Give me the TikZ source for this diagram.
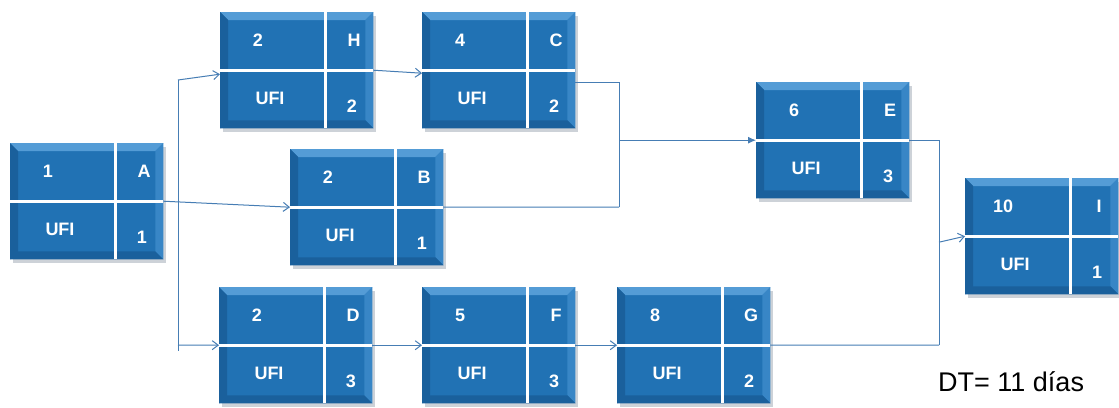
\documentclass[tikz,border=0pt]{standalone}
\usepackage{fontspec}
\setmainfont{Liberation Sans}
\usetikzlibrary{calc,arrows.meta}
\definecolor{boxblue}{RGB}{33,114,180}
\definecolor{bevlight}{RGB}{84,156,214}
\definecolor{bevmid}{RGB}{56,134,198}
\definecolor{bevdark}{RGB}{26,96,156}
\definecolor{linec}{RGB}{70,125,180}
\definecolor{shadowc}{RGB}{205,210,216}
\tikzset{
  actnode/.style={rectangle, minimum width=153pt, minimum height=116pt, inner sep=0pt, fill=boxblue},
  divider/.style={draw=white, line width=3pt},
  lbl/.style={text=white, font=\bfseries\fontsize{18}{18}\selectfont, inner sep=0pt},
  conn/.style={draw=linec, line width=1pt},
  openarr/.style={conn, -{Straight Barb[length=6pt,width=9pt]}},
  fillarr/.style={conn, -{Latex[length=8pt,width=7pt]}}
}
\newcommand\actbox[6]{%
  \fill[shadowc] (#2+3,#3+4) rectangle (#2+156,#3+120);
  \node[actnode, anchor=north west] (#1) at (#2,#3) {};
  \fill[bevlight] (#1.north west) -- (#1.north east) -- ($(#1.north east)+(-8,8)$) -- ($(#1.north west)+(8,8)$) -- cycle;
  \fill[bevdark] (#1.north west) -- ($(#1.north west)+(8,8)$) -- ($(#1.south west)+(8,-8)$) -- (#1.south west) -- cycle;
  \fill[bevmid] (#1.north east) -- ($(#1.north east)+(-8,8)$) -- ($(#1.south east)+(-8,-8)$) -- (#1.south east) -- cycle;
  \fill[bevdark] (#1.south west) -- ($(#1.south west)+(8,-8)$) -- ($(#1.south east)+(-8,-8)$) -- (#1.south east) -- cycle;
  \draw[divider] ($(#1.north west)+(105,0)$) -- ($(#1.south west)+(105,0)$);
  \draw[divider] (#1.west) -- (#1.east);
  \node[lbl] (#1-num) at ($(#1.north west)+(38,28)$) {#4};
  \node[lbl] (#1-let) at ($(#1.north west)+(134,28)$) {#5};
  \node[lbl] (#1-ufi) at ($(#1.north west)+(50,86)$) {UFI};
  \node[lbl] (#1-dur) at ($(#1.north west)+(132,94)$) {#6};
}
\begin{document}
\begin{tikzpicture}[x=1pt,y=-1pt]
\useasboundingbox (0,0) rectangle (1119,407);
\fill[white] (0,0) rectangle (1119,407);
\actbox{A}{10}{143}{1}{A}{1}
\actbox{H}{220}{12}{2}{H}{2}
\actbox{C}{422}{12}{4}{C}{2}
\actbox{B}{290}{149}{2}{B}{1}
\actbox{E}{756}{82}{6}{E}{3}
\actbox{I}{965}{178}{10}{I}{1}
\actbox{D}{219}{287}{2}{D}{3}
\actbox{F}{422}{287}{5}{F}{3}
\actbox{G}{617}{287}{8}{G}{2}
% trunk from A
\coordinate (tTop) at (178,80);
\coordinate (tD) at (178,345);
\coordinate (tBot) at (178,351);
\draw[conn] (tTop) -- (tBot);
\draw[openarr] (tTop) -- ($(H.west)+(0,4)$);
\draw[openarr] (A.east) -- (B.west);
\draw[openarr] (tD) -- (D.west);
% chains
\draw[openarr] (H.east) -- ($(C.west)+(0,3)$);
\draw[openarr] (D.east) -- (F.west);
\draw[openarr] (F.east) -- (G.west);
% C and B merge into E
\coordinate (jBot) at (619,207);
\draw[conn] ($(C.east)+(0,12)$) -| (jBot);
\draw[conn] (jBot) -- (B.east);
\draw[fillarr] (jBot |- E.west) -- (E.west);
% E and G merge into I
\coordinate (kBot) at (939,345);
\draw[conn] (E.east) -| (kBot);
\draw[conn] (G.east) -- (kBot);
\draw[openarr] ($(kBot |- I.west)+(0,6)$) -- (I.west);
% duration
\node[font=\fontsize{27}{27}\selectfont, anchor=base west, inner sep=0pt] (dt) at (938,391) {DT= 11 días};
\end{tikzpicture}
\end{document}
